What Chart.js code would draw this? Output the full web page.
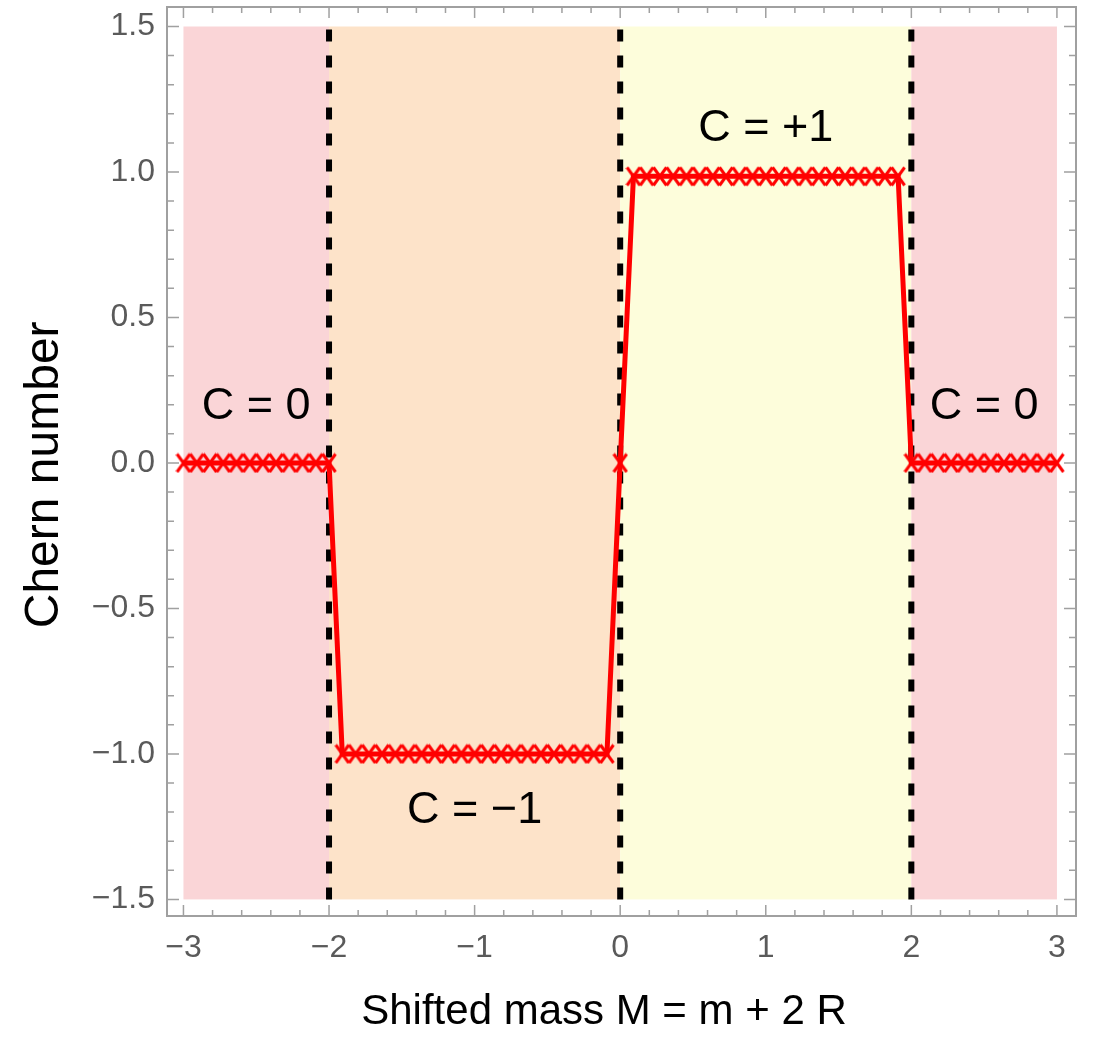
<!DOCTYPE html>
<html>
<head>
<meta charset="utf-8">
<script src="https://cdn.jsdelivr.net/npm/chart.js@4.4.0/dist/chart.umd.min.js"></script>
<style>
body { margin: 0; background: #fff; }
</style>
</head>
<body>
<canvas id="chern" width="1093" height="1040"></canvas>
<script>
// sampled shifted mass values and the Chern number at each one
var massValues = [
    -3.000, -2.909, -2.818, -2.727, -2.636, -2.545, -2.455, -2.364, -2.273, -2.182, -2.091,
    -2.000, -1.909, -1.818, -1.727, -1.636, -1.545, -1.455, -1.364, -1.273, -1.182, -1.091,
    -1.000, -0.909, -0.818, -0.727, -0.636, -0.545, -0.455, -0.364, -0.273, -0.182, -0.091,
    0.000, 0.091, 0.182, 0.273, 0.364, 0.455, 0.545, 0.636, 0.727, 0.818, 0.909,
    1.000, 1.091, 1.182, 1.273, 1.364, 1.455, 1.545, 1.636, 1.727, 1.818, 1.909,
    2.000, 2.091, 2.182, 2.273, 2.364, 2.455, 2.545, 2.636, 2.727, 2.818, 2.909, 3.000
];
var chernValues = [
    0, 0, 0, 0, 0, 0, 0, 0, 0, 0, 0,
    0, -1, -1, -1, -1, -1, -1, -1, -1, -1, -1,
    -1, -1, -1, -1, -1, -1, -1, -1, -1, -1, -1,
    0, 0.985, 0.985, 0.985, 0.985, 0.985, 0.985, 0.985, 0.985, 0.985, 0.985,
    0.985, 0.985, 0.985, 0.985, 0.985, 0.985, 0.985, 0.985, 0.985, 0.985, 0.985,
    0, 0, 0, 0, 0, 0, 0, 0, 0, 0, 0, 0
];

// phase regions
var bandStart = [-3, -2, 0, 2];
var bandEnd = [-2, 0, 2, 3];
var bandColors = ["#fad5d7", "#fde3c9", "#fdfddb", "#fad5d7"];
var boundaryX = [-2, 0, 2];

var phaseLabels = ["C = 0", "C = \u22121", "C = +1", "C = 0"];
var phaseLabelX = [-2.5, -1, 1, 2.5];
var phaseLabelY = [0.195, -1.195, 1.15, 0.195];

// ticks
var xTicks = [-3, -2, -1, 0, 1, 2, 3];
var xMinorTicks = [-2.8, -2.6, -2.4, -2.2, -1.8, -1.6, -1.4, -1.2, -0.8, -0.6, -0.4, -0.2,
    0.2, 0.4, 0.6, 0.8, 1.2, 1.4, 1.6, 1.8, 2.2, 2.4, 2.6, 2.8];
var yTicks = [-1.5, -1, -0.5, 0, 0.5, 1, 1.5];
var yMinorTicks = [-1.4, -1.3, -1.2, -1.1, -0.9, -0.8, -0.7, -0.6, -0.4, -0.3, -0.2, -0.1,
    0.1, 0.2, 0.3, 0.4, 0.6, 0.7, 0.8, 0.9, 1.1, 1.2, 1.3, 1.4];

var frameColor = "#a0a0a0";
var fontFamily = "'Liberation Sans', Arial, Helvetica, sans-serif";

function minusSign(s) {
    return String(s).replace("-", "\u2212");
}

// tall X marker
var cross = document.createElement("canvas");
cross.width = 16;
cross.height = 21;
(function () {
    let c = cross.getContext("2d");
    c.strokeStyle = "rgb(255,0,0)";
    c.lineWidth = 3;
    c.beginPath();
    c.moveTo(1.5, 1.5); c.lineTo(14.5, 19.5);
    c.moveTo(14.5, 1.5); c.lineTo(1.5, 19.5);
    c.stroke();
})();

var bandsPlugin = {
    id: "bands",
    beforeDatasetsDraw(chart) {
        let ctx = chart.ctx, xs = chart.scales.x, ys = chart.scales.y;
        let top = ys.getPixelForValue(1.5), bottom = ys.getPixelForValue(-1.5);
        ctx.save();
        for (let i = 0; i < bandStart.length; i++) {
            let l = xs.getPixelForValue(bandStart[i]);
            let r = xs.getPixelForValue(bandEnd[i]);
            ctx.fillStyle = bandColors[i];
            ctx.fillRect(l, top, r - l, bottom - top);
        }
        ctx.restore();
    }
};

var labelsPlugin = {
    id: "phaseLabels",
    afterDatasetsDraw(chart) {
        let ctx = chart.ctx, xs = chart.scales.x, ys = chart.scales.y;
        ctx.save();
        ctx.fillStyle = "#000";
        ctx.font = "45px " + fontFamily;
        ctx.textAlign = "center";
        ctx.textBaseline = "middle";
        for (let i = 0; i < phaseLabels.length; i++) {
            ctx.fillText(phaseLabels[i], xs.getPixelForValue(phaseLabelX[i]), ys.getPixelForValue(phaseLabelY[i]));
        }
        ctx.restore();
    }
};

var framePlugin = {
    id: "frame",
    afterDraw(chart) {
        let ctx = chart.ctx, a = chart.chartArea, xs = chart.scales.x, ys = chart.scales.y;
        ctx.save();
        ctx.strokeStyle = frameColor;
        ctx.lineWidth = 2;
        ctx.strokeRect(a.left, a.top, a.right - a.left, a.bottom - a.top);
        ctx.lineWidth = 1.5;
        ctx.beginPath();
        function xTick(v, len) {
            let p = xs.getPixelForValue(v);
            ctx.moveTo(p, a.bottom); ctx.lineTo(p, a.bottom - len);
            ctx.moveTo(p, a.top); ctx.lineTo(p, a.top + len);
        }
        function yTick(v, len) {
            let p = ys.getPixelForValue(v);
            ctx.moveTo(a.left, p); ctx.lineTo(a.left + len, p);
            ctx.moveTo(a.right, p); ctx.lineTo(a.right - len, p);
        }
        xTicks.forEach(v => xTick(v, 11));
        xMinorTicks.forEach(v => xTick(v, 6));
        yTicks.forEach(v => yTick(v, 12));
        yMinorTicks.forEach(v => yTick(v, 7));
        ctx.stroke();
        ctx.restore();
    }
};

var datasets = [{
    type: "line",
    data: massValues.map((m, i) => ({ x: m, y: chernValues[i] })),
    borderColor: "rgb(255,0,0)",
    borderWidth: 5,
    tension: 0,
    pointStyle: cross,
    pointRadius: 9,
    order: 0
}];
boundaryX.forEach(function (b) {
    datasets.push({
        type: "line",
        data: [{ x: b, y: -1.5 }, { x: b, y: 1.5 }],
        borderColor: "#000",
        borderWidth: 6,
        borderDash: [12, 14],
        borderCapStyle: "butt",
        pointRadius: 0,
        order: 1
    });
});

new Chart(document.getElementById("chern"), {
    type: "line",
    data: { datasets: datasets },
    plugins: [bandsPlugin, labelsPlugin, framePlugin],
    options: {
        responsive: false,
        animation: false,
        devicePixelRatio: 1,
        layout: { autoPadding: false, padding: { top: 7, right: 17, left: 0, bottom: 0 } },
        plugins: {
            legend: { display: false },
            tooltip: { enabled: false }
        },
        scales: {
            x: {
                type: "linear",
                min: -3.113,
                max: 3.131,
                afterBuildTicks: (scale) => { scale.ticks = xTicks.map(v => ({ value: v })); },
                afterFit: (scale) => {
                    scale.height = 124;
                    scale.paddingLeft = 0;
                    scale.paddingRight = 0;
                },
                grid: { display: false, drawTicks: false },
                border: { display: false },
                ticks: {
                    padding: 13,
                    color: "#5a5a5a",
                    font: { family: fontFamily, size: 32 },
                    maxRotation: 0,
                    callback: (v) => minusSign(v)
                },
                title: {
                    display: true,
                    text: "Shifted mass M = m + 2 R   ",
                    color: "#000",
                    font: { family: fontFamily, size: 42 },
                    padding: { top: 0, bottom: 2 }
                }
            },
            y: {
                type: "linear",
                min: -1.557,
                max: 1.567,
                afterBuildTicks: (scale) => { scale.ticks = yTicks.map(v => ({ value: v })); },
                afterFit: (scale) => {
                    scale.width = 167;
                    scale.paddingTop = 0;
                    scale.paddingBottom = 0;
                },
                grid: { display: false, drawTicks: false },
                border: { display: false },
                ticks: {
                    padding: 12,
                    color: "#5a5a5a",
                    font: { family: fontFamily, size: 32 },
                    callback: (v) => minusSign(v.toFixed(1))
                },
                title: {
                    display: true,
                    text: "Chern number  ",
                    color: "#000",
                    font: { family: fontFamily, size: 48 },
                    padding: { top: 16, bottom: 0 }
                }
            }
        }
    }
});
</script>
</body>
</html>
